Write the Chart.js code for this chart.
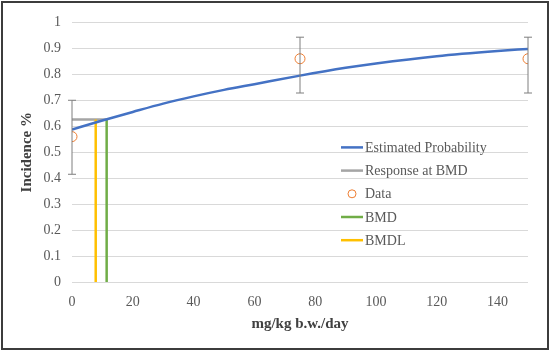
<!DOCTYPE html>
<html>
<head>
<meta charset="utf-8">
<script src="https://cdn.jsdelivr.net/npm/chart.js@4"></script>
<style>
  body { margin: 0; background: #fff; }
  #wrap {
    position: absolute; left: 1px; top: 1px;
    width: 548px; height: 349px; box-sizing: border-box;
    border: 2px solid #3c3c3c; background: #fff;
  }
</style>
</head>
<body>
<div id="wrap"><canvas id="myChart" width="544" height="345"></canvas></div>
<script>
// dose (mg/kg b.w./day) and fitted curve
const curveX = [0, 10, 20, 30, 40, 50, 60, 75, 90, 100, 120, 140, 150];
const curveY = [0.587, 0.622, 0.655, 0.687, 0.715, 0.74, 0.762, 0.795, 0.825, 0.842, 0.87, 0.89, 0.898];

// observed data with error bars
const doseX = [0, 75, 150];
const incidence = [0.56, 0.86, 0.86];
const errLow = [0.415, 0.728, 0.728];
const errHigh = [0.70, 0.943, 0.943];

// benchmark dose values
const bmd = 11.4;
const bmdl = 7.8;
const bmdResponse = 0.626;

const xTicks = [0, 20, 40, 60, 80, 100, 120, 140];
const yTicks = [0, 0.1, 0.2, 0.3, 0.4, 0.5, 0.6, 0.7, 0.8, 0.9, 1];

const fontFamily = "'Liberation Serif', 'DejaVu Serif', serif";

const errorBars = {
  id: 'errorBars',
  afterDatasetsDraw(chart) {
    const { ctx, scales: { x, y } } = chart;
    ctx.save();
    ctx.strokeStyle = '#7f7f7f';
    ctx.lineWidth = 1;
    doseX.forEach((d, i) => {
      const px = x.getPixelForValue(d);
      const top = y.getPixelForValue(errHigh[i]);
      const bot = y.getPixelForValue(errLow[i]);
      ctx.beginPath();
      ctx.moveTo(px, top); ctx.lineTo(px, bot);
      ctx.moveTo(px - 4, top); ctx.lineTo(px + 4, top);
      ctx.moveTo(px - 4, bot); ctx.lineTo(px + 4, bot);
      ctx.stroke();
    });
    ctx.restore();
  }
};

// legend drawn inside the plot area
const innerLegend = {
  id: 'innerLegend',
  afterDraw(chart) {
    const { ctx, chartArea } = chart;
    const left = chartArea.left + 269;
    let top = chartArea.top + 125;
    ctx.save();
    ctx.font = "14px " + fontFamily;
    ctx.textBaseline = 'middle';
    chart.data.datasets.forEach(ds => {
      if (ds.label === 'Data') {
        ctx.beginPath();
        ctx.strokeStyle = ds.borderColor;
        ctx.lineWidth = 1;
        ctx.arc(left + 11, top, 4, 0, Math.PI * 2);
        ctx.stroke();
      } else {
        ctx.beginPath();
        ctx.strokeStyle = ds.borderColor;
        ctx.lineWidth = 2.5;
        ctx.moveTo(left, top); ctx.lineTo(left + 22, top);
        ctx.stroke();
      }
      ctx.fillStyle = '#595959';
      ctx.fillText(ds.label, left + 24, top + 1);
      top += 23.2;
    });
    ctx.restore();
  }
};

const ctx = document.querySelector('#myChart').getContext('2d');
const chart = new Chart(ctx, {
  type: 'scatter',
  data: {
    datasets: [
      {
        label: 'Estimated Probability',
        data: curveX.map((v, i) => ({ x: v, y: curveY[i] })),
        showLine: true,
        borderColor: '#4472C4',
        borderWidth: 2.5,
        pointRadius: 0,
        cubicInterpolationMode: 'monotone',
        order: 1
      },
      {
        label: 'Response at BMD',
        data: [{ x: 0, y: bmdResponse }, { x: bmd, y: bmdResponse }],
        showLine: true,
        borderColor: '#A5A5A5',
        borderWidth: 2.5,
        pointRadius: 0,
        order: 3
      },
      {
        label: 'Data',
        data: doseX.map((v, i) => ({ x: v, y: incidence[i] })),
        borderColor: '#ED7D31',
        backgroundColor: 'rgba(0,0,0,0)',
        borderWidth: 1,
        pointRadius: 5,
        order: 0
      },
      {
        label: 'BMD',
        data: [{ x: bmd, y: 0 }, { x: bmd, y: bmdResponse }],
        showLine: true,
        borderColor: '#70AD47',
        borderWidth: 2.5,
        pointRadius: 0,
        order: 2
      },
      {
        label: 'BMDL',
        data: [{ x: bmdl, y: 0 }, { x: bmdl, y: bmdResponse }],
        showLine: true,
        borderColor: '#FFC000',
        borderWidth: 2.5,
        pointRadius: 0,
        order: 2
      }
    ]
  },
  options: {
    responsive: false,
    animation: false,
    layout: { padding: { top: 10, right: 19, bottom: 0, left: 0 } },
    plugins: { legend: { display: false }, tooltip: { enabled: false } },
    scales: {
      x: {
        type: 'linear',
        min: 0,
        max: 150,
        afterBuildTicks: (axis) => { axis.ticks = xTicks.map(v => ({ value: v })); },
        afterFit: (axis) => { axis.height = 66; },
        grid: { display: false },
        border: { display: false },
        ticks: { color: '#595959', padding: 4, maxRotation: 0, font: { family: fontFamily, size: 14 } },
        title: {
          display: true,
          text: 'mg/kg b.w./day',
          color: '#404040',
          padding: { top: 4, bottom: 15 },
          font: { family: fontFamily, size: 15, weight: 'bold' }
        }
      },
      y: {
        min: 0,
        max: 1,
        afterBuildTicks: (axis) => { axis.ticks = yTicks.map(v => ({ value: v })); },
        afterFit: (axis) => { axis.width = 69; },
        grid: { color: '#d9d9d9', lineWidth: 1, drawTicks: false },
        border: { display: false },
        ticks: {
          color: '#595959',
          padding: 11,
          font: { family: fontFamily, size: 14 },
          callback: (v) => String(+v.toFixed(1))
        },
        title: {
          display: true,
          text: 'Incidence %',
          color: '#404040',
          padding: { top: 15, bottom: 0 },
          font: { family: fontFamily, size: 15, weight: 'bold' }
        }
      }
    }
  },
  plugins: [errorBars, innerLegend]
});
</script>
</body>
</html>
